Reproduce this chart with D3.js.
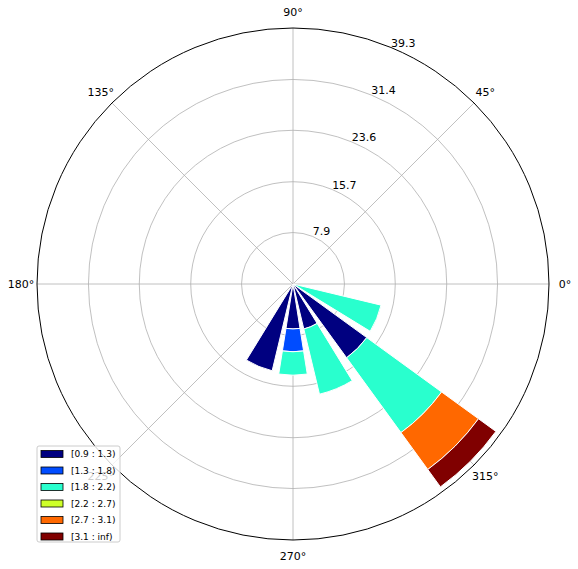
<!DOCTYPE html>
<html>
<head>
<meta charset="utf-8">
<script src="https://d3js.org/d3.v7.min.js"></script>
<style>
  body { margin: 0; background: #fff; }
  text { font-family: "DejaVu Sans", sans-serif; }
</style>
</head>
<body>
<div id="chart"></div>
<script>
  // wind directions (deg, math convention) and speed-bin frequencies
  var directions = [247.5, 270, 292.5, 315, 337.5];
  var binLabels = ["[0.9 : 1.3)", "[1.3 : 1.8)", "[1.8 : 2.2)", "[2.2 : 2.7)", "[2.7 : 3.1)", "[3.1 : inf)"];
  var binColors = ["#000080", "#004cff", "#29ffce", "#ceff29", "#ff6800", "#800000"];
  // one array per bin, aligned with directions
  var bin0 = [13.7, 6.9, 7.1, 14.0, 0];
  var bin1 = [0, 3.5, 0, 0, 0];
  var bin2 = [0, 3.6, 10.3, 14.2, 13.9];
  var bin3 = [0, 0, 0, 0, 0];
  var bin4 = [0, 0, 0, 7.0, 0];
  var bin5 = [0, 0, 0, 3.3, 0];
  var ringTicks = [7.9, 15.7, 23.6, 31.4, 39.3];
  var angleTicks = [0, 45, 90, 135, 180, 225, 270, 315];

  var width = 578, height = 569;
  var cx = 293, cy = 284, R = 256;
  var bins = [bin0, bin1, bin2, bin3, bin4, bin5];

  var svg = d3.select("#chart").append("svg")
    .attr("width", width).attr("height", height);

  var r = d3.scaleLinear().domain([0, 39.3]).range([0, R]);
  var g = svg.append("g").attr("transform", "translate(" + cx + "," + cy + ")");

  function pt(deg, rad) {
    var a = deg * Math.PI / 180;
    return [Math.cos(a) * rad, -Math.sin(a) * rad];
  }

  // grid
  g.selectAll("circle.ring").data(ringTicks.slice(0, -1)).enter().append("circle")
    .attr("r", function(d) { return r(d); })
    .attr("fill", "none").attr("stroke", "#b0b0b0").attr("stroke-width", 0.8);
  g.selectAll("line.spoke").data(angleTicks).enter().append("line")
    .attr("x1", 0).attr("y1", 0)
    .attr("x2", function(d) { return pt(d, R)[0]; })
    .attr("y2", function(d) { return pt(d, R)[1]; })
    .attr("stroke", "#b0b0b0").attr("stroke-width", 0.8);

  // stacked bars
  var arc = d3.arc();
  var halfW = 9 * Math.PI / 180;
  directions.forEach(function(dir, i) {
    var base = 0;
    // svg arc angle: 0 at top, clockwise; math angle -> 90 - deg
    var a = (90 - dir) * Math.PI / 180;
    bins.forEach(function(b, j) {
      var v = b[i];
      if (v <= 0) return;
      g.append("path")
        .attr("d", arc({innerRadius: r(base), outerRadius: r(base + v),
                        startAngle: a - halfW, endAngle: a + halfW}))
        .attr("fill", binColors[j]).attr("stroke", "#fff").attr("stroke-width", 1);
      base += v;
    });
  });

  g.append("circle").attr("r", R).attr("fill", "none").attr("stroke", "#000").attr("stroke-width", 1);

  // radial labels
  g.selectAll("text.rl").data(ringTicks).enter().append("text")
    .attr("x", function(d) { return pt(67.5, r(d))[0]; })
    .attr("y", function(d) { return pt(67.5, r(d))[1] - 1; })
    .attr("font-size", 11).text(function(d) { return d.toFixed(1); });

  // angle labels
  g.selectAll("text.al").data(angleTicks).enter().append("text")
    .attr("x", function(d) { return pt(d, R + 16)[0]; })
    .attr("y", function(d) { return pt(d, R + 16)[1]; })
    .attr("dy", "0.35em").attr("text-anchor", "middle")
    .attr("font-size", 11).text(function(d) { return d + "°"; });

  // legend
  var lg = svg.append("g").attr("transform", "translate(37,446)");
  lg.append("rect").attr("width", 83).attr("height", 96).attr("rx", 2)
    .attr("fill", "#fff").attr("fill-opacity", 0.8).attr("stroke", "#ccc");
  binLabels.forEach(function(l, i) {
    var y = 8 + i * 16.5;
    lg.append("rect").attr("x", 4).attr("y", y - 3.5).attr("width", 22).attr("height", 7)
      .attr("fill", binColors[i]).attr("stroke", "#000").attr("stroke-width", 0.8);
    lg.append("text").attr("x", 34).attr("y", y).attr("dy", "0.35em")
      .attr("font-size", 9).text(l);
  });
</script>
</body>
</html>
